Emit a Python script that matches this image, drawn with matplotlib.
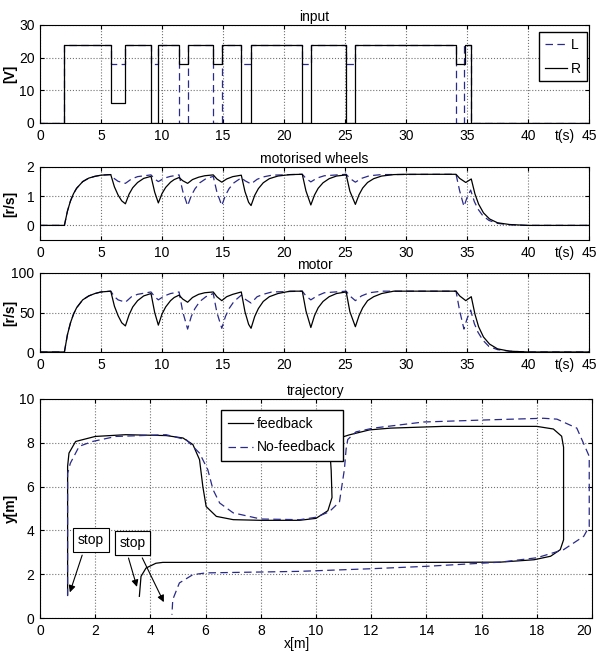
import numpy as np
import matplotlib
matplotlib.use("Agg")
from matplotlib import pyplot as plt

plt.rcParams['font.family'] = ['Liberation Sans Narrow', 'DejaVu Sans Condensed', 'Liberation Sans', 'DejaVu Sans']
plt.rcParams['font.size'] = 10

# input voltages (step changes)
in_t_R = [0, 2, 5.8, 7, 9.1, 9.7, 11.4, 12.1, 14.2, 14.9, 16.5, 17.3, 21.5, 22.2, 25.1, 25.85, 34.1, 34.85, 35.35, 45]
in_R = [0, 24, 6, 24, 0, 24, 18, 24, 18, 24, 0, 24, 0, 24, 0, 24, 18, 24, 0, 0]
in_t_L = [0, 2, 5.8, 7, 9.1, 9.7, 11.4, 12.1, 14.2, 14.9, 16.5, 17.3, 21.5, 22.2, 25.1, 25.85, 34.1, 34.75, 35.35, 45]
in_L = [0, 24, 18, 24, 18, 24, 0, 24, 0, 24, 18, 24, 18, 24, 18, 24, 0, 24, 0, 0]

# wheel speeds [r/s]
t_R = [0, 2, 2.25, 2.5, 2.75, 3.0, 3.5, 4.0, 4.5, 5.0, 5.8, 6.1, 6.4, 6.7, 7.0, 7.3, 7.6, 8.0, 8.5, 9.1,
       9.4, 9.7, 10.0, 10.3, 10.7, 11.0, 11.4, 11.7, 12.1, 12.5, 13.0, 13.5, 14.2, 14.5, 14.9, 15.3, 15.8,
       16.5, 16.8, 17.1, 17.3, 17.6, 17.9, 18.3, 18.8, 19.5, 20.5, 21.5, 21.8, 22.2, 22.5, 22.8, 23.2, 23.7,
       24.3, 25.1, 25.4, 25.85, 26.15, 26.45, 26.85, 27.35, 28, 29, 30, 34.1, 34.4, 34.9, 35.35, 35.65,
       35.95, 36.35, 36.85, 37.5, 38.5, 40, 45]
wheel_R = [0, 0, .49, .84, 1.09, 1.27, 1.50, 1.62, 1.68, 1.72, 1.74, 1.32, 1.04, .84, .74, 1.07, 1.29, 1.47,
           1.61, 1.68, 1.14, .77, 1.09, 1.30, 1.48, 1.57, 1.64, 1.53, 1.44, 1.57, 1.65, 1.70, 1.73, 1.59,
           1.48, 1.59, 1.67, 1.72, 1.16, .79, .68, 1.03, 1.26, 1.46, 1.60, 1.69, 1.74, 1.75, 1.18, .70, 1.04,
           1.27, 1.46, 1.60, 1.69, 1.73, 1.17, .72, 1.05, 1.28, 1.47, 1.60, 1.69, 1.74, 1.75, 1.75, 1.61,
           1.47, 1.59, 1.08, .73, .43, .22, .09, .03, 0, 0]
t_L = [0, 2, 2.25, 2.5, 2.75, 3.0, 3.5, 4.0, 4.5, 5.0, 5.8, 6.1, 6.4, 7.0, 7.5, 8.0, 9.1, 9.4, 9.7, 10.2,
       10.7, 11.4, 11.7, 12.1, 12.4, 12.7, 13.1, 13.6, 14.2, 14.5, 14.9, 15.2, 15.5, 15.9, 16.5, 16.8, 17.3,
       17.8, 18.3, 19.0, 21.5, 21.8, 22.2, 22.7, 23.3, 25.1, 25.4, 25.85, 26.35, 27.0, 28.0, 34.1, 34.4,
       34.75, 35.0, 35.3, 35.6, 35.9, 36.3, 36.8, 37.5, 38.5, 40, 45]
wheel_L = [0, 0, .49, .84, 1.09, 1.27, 1.50, 1.62, 1.68, 1.72, 1.74, 1.60, 1.51, 1.44, 1.59, 1.67, 1.73,
           1.59, 1.50, 1.62, 1.68, 1.73, 1.17, .67, 1.02, 1.25, 1.46, 1.60, 1.68, 1.14, .68, 1.03, 1.26,
           1.46, 1.63, 1.53, 1.42, 1.58, 1.66, 1.72, 1.75, 1.61, 1.49, 1.62, 1.70, 1.75, 1.61, 1.48, 1.61,
           1.70, 1.74, 1.75, 1.18, .65, .95, 1.21, .82, .56, .33, .17, .07, .02, 0, 0]

# motor speeds [r/s]
motor_R = [0, 0, 22, 37, 48, 56, 66, 71, 74, 76, 77, 58, 46, 37, 33, 47, 57, 65, 71, 74, 50, 34, 48, 57, 65,
           69, 72, 67, 63, 69, 73, 75, 76, 70, 65, 70, 73, 76, 51, 35, 30, 45, 55, 64, 70, 74, 77, 77, 52, 31,
           46, 56, 64, 70, 74, 76, 51, 32, 46, 56, 65, 70, 74, 77, 77, 77, 71, 65, 70, 48, 32, 19, 10, 4, 1,
           0, 0]
motor_L = [0, 0, 22, 37, 48, 56, 66, 71, 74, 76, 77, 70, 66, 63, 70, 73, 76, 70, 66, 71, 74, 76, 51, 29, 45,
           55, 64, 70, 74, 50, 30, 45, 55, 64, 72, 67, 62, 70, 73, 76, 77, 71, 66, 71, 75, 77, 71, 65, 71, 75,
           77, 77, 52, 29, 42, 53, 36, 25, 15, 7, 3, 1, 0, 0]

# trajectory
fb_x = [1.0, 1.0, 1.05, 1.29, 2.0, 3.1, 4.57, 5.18, 5.54, 5.78, 5.9, 6.02, 6.39, 7.0, 8.0, 9.4, 10.0, 10.43,
        10.58, 10.55, 10.5, 10.6, 11.2, 11.94, 12.7, 14.6, 18.0, 18.6, 18.9, 18.97, 18.97, 18.85, 18.5, 17.9,
        16.67, 14.0, 12.0, 10.0, 8.0, 6.0, 4.45, 4.2, 3.84, 3.66, 3.6]
fb_y = [1.06, 6.92, 7.53, 8.06, 8.29, 8.37, 8.33, 8.22, 7.92, 7.23, 6.0, 5.09, 4.64, 4.49, 4.46, 4.46, 4.55,
        4.9, 5.5, 6.75, 7.66, 8.12, 8.36, 8.59, 8.67, 8.75, 8.75, 8.63, 8.3, 7.8, 3.57, 3.12, 2.82, 2.66,
        2.55, 2.54, 2.54, 2.54, 2.54, 2.54, 2.54, 2.5, 2.28, 1.9, 0.99]
nf_x = [1.0, 1.0, 1.1, 1.42, 1.9, 2.75, 4.57, 5.3, 5.78, 6.08, 6.27, 6.51, 7.0, 8.0, 9.42, 10.0, 10.48,
        10.85, 11.03, 11.09, 11.15, 11.45, 12.07, 13.9, 16.3, 18.24, 18.73, 19.45, 19.9, 19.9, 19.7, 18.97,
        18.0, 16.67, 14.0, 12.0, 9.4, 8.0, 6.02, 5.54, 5.05, 4.81, 4.78]
nf_y = [1.0, 6.6, 7.07, 7.84, 8.06, 8.29, 8.37, 8.14, 7.53, 6.77, 5.86, 5.25, 4.8, 4.52, 4.49, 4.6, 4.85,
        5.3, 6.8, 7.7, 8.15, 8.5, 8.67, 8.95, 9.05, 9.12, 9.08, 8.67, 7.38, 4.18, 3.73, 3.12, 2.75, 2.55,
        2.36, 2.25, 2.13, 2.1, 2.06, 1.98, 1.6, 0.84, 0.15]

blue = '#2a2a8a'
dash = (0, (6, 3.5))
W, H = 597, 653
fig = plt.figure(figsize=(W / 100, H / 100), dpi=100)


def make_ax(left, top, right, bottom):
    ax = fig.add_axes([left / W, 1 - bottom / H, (right - left) / W, (bottom - top) / H])
    ax.tick_params(direction='in', length=3, pad=4, top=True, right=True, labelsize=10)
    ax.grid(True, linestyle=':', color='0.45', linewidth=0.8)
    for s in ax.spines.values():
        s.set_linewidth(0.8)
    return ax


def tlabel(ax):
    ax.annotate('t(s)', xy=(43, 0), xycoords=('data', 'axes fraction'), xytext=(0, -4),
                textcoords='offset points', ha='center', va='top', fontsize=10)


# input
ax1 = make_ax(40, 25, 589, 123)
ax1.step(in_t_L, in_L, where='post', color=blue, ls=dash, lw=0.9, label='L')
ax1.step(in_t_R, in_R, where='post', color='k', lw=0.9, label='R')
ax1.set_xlim(0, 45)
ax1.set_ylim(0, 30)
ax1.set_yticks([0, 10, 20, 30])
ax1.set_xticks(range(0, 50, 5))
ax1.set_ylabel('[V]', fontweight='bold')
ax1.yaxis.set_label_coords(-0.042, 0.5)
ax1.set_title('input', fontsize=10, pad=3)
ax1.legend(loc='upper right', bbox_to_anchor=(0.996, 0.925), borderaxespad=0, fancybox=False,
           edgecolor='k', framealpha=1, handlelength=1.6, handletextpad=0.3, borderpad=0.4,
           labelspacing=0.7)
tlabel(ax1)

# motorised wheels
ax2 = make_ax(40, 167, 589, 240)
ax2.plot(t_L, wheel_L, color=blue, ls=dash, lw=0.9)
ax2.plot(t_R, wheel_R, color='k', lw=0.9)
ax2.set_xlim(0, 45)
ax2.set_ylim(-0.5, 2)
ax2.set_yticks([0, 1, 2])
ax2.set_xticks(range(0, 50, 5))
ax2.set_ylabel('[r/s]', fontweight='bold')
ax2.yaxis.set_label_coords(-0.042, 0.5)
ax2.set_title('motorised wheels', fontsize=10, pad=3)
tlabel(ax2)

# motor
ax3 = make_ax(40, 273, 589, 352)
ax3.plot(t_L, motor_L, color=blue, ls=dash, lw=0.9)
ax3.plot(t_R, motor_R, color='k', lw=0.9)
ax3.set_xlim(0, 45)
ax3.set_ylim(0, 100)
ax3.set_yticks([0, 50, 100])
ax3.set_xticks(range(0, 50, 5))
ax3.set_ylabel('[r/s]', fontweight='bold')
ax3.yaxis.set_label_coords(-0.042, 0.5)
ax3.set_title('motor', fontsize=10, pad=3)
tlabel(ax3)

# trajectory
ax4 = make_ax(40, 399, 592, 618)
ax4.plot(fb_x, fb_y, color='k', lw=0.9, label='feedback')
ax4.plot(nf_x, nf_y, color=blue, ls=dash, lw=0.9, label='No-feedback')
ax4.set_xlim(0, 20)
ax4.set_ylim(0, 10)
ax4.set_xticks(range(0, 22, 2))
ax4.set_yticks(range(0, 12, 2))
ax4.get_xticklabels()[-1].set_horizontalalignment('right')
ax4.set_ylabel('y[m]', fontweight='bold')
ax4.yaxis.set_label_coords(-0.04, 0.5)
ax4.set_xlabel('x[m]', labelpad=0)
ax4.xaxis.set_label_coords(0.465, -0.085)
ax4.set_title('trajectory', fontsize=10, pad=3)
ax4.legend(loc='upper left', bbox_to_anchor=(0.328, 0.951), borderaxespad=0, fancybox=False,
           edgecolor='k', framealpha=1, handlelength=1.8, handletextpad=0.3, borderpad=0.5,
           labelspacing=0.7)

box = dict(boxstyle='square,pad=0.35', fc='white', ec='k', lw=0.8)
arr = dict(arrowstyle='-|>', color='k', lw=0.8, mutation_scale=10)
ax4.annotate('stop', xy=(1.05, 1.05), xytext=(1.85, 3.55), ha='center', va='center', bbox=box,
             arrowprops=dict(arr, relpos=(0.26, 0)))
ax4.annotate('stop', xy=(3.54, 1.3), xytext=(3.35, 3.42), ha='center', va='center', bbox=box,
             arrowprops=dict(arr, relpos=(0.26, 0)))
ax4.annotate('stop', xy=(4.53, 0.61), xytext=(3.35, 3.42), ha='center', va='center', bbox=box,
             arrowprops=dict(arr, relpos=(0.73, 0)))

fig.savefig('out.png', dpi=100)
